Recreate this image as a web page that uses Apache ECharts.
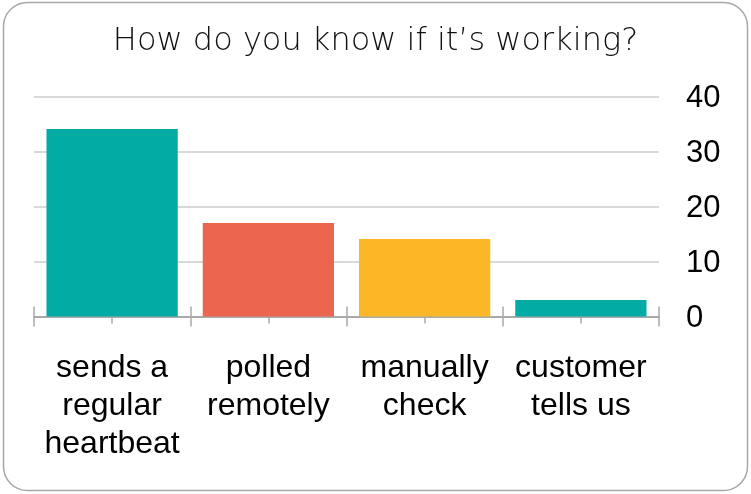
<!DOCTYPE html>
<html>
<head>
<meta charset="utf-8">
<script src="https://cdn.jsdelivr.net/npm/echarts@6/dist/echarts.min.js"></script>
<style>
html,body{margin:0;padding:0;background:#fff;}
#chart{width:751px;height:494px;}
</style>
</head>
<body>
<div id="chart"></div>
<script>
const titleText = "How do you know if it’s working?";
const categories = ["sends a\nregular\nheartbeat", "polled\nremotely", "manually\ncheck", "customer\ntells us"];
const values = [34.1, 17.0, 14.1, 3.0];
const barColors = ["#02aca5", "#ec654e", "#fdb726", "#02aca5"];
const yTicks = [0, 10, 20, 30, 40];

const chart = echarts.init(document.getElementById('chart'), null, {renderer: 'canvas'});
const tickColor = '#a9a9a9';
function tickAxis(len, inside, align) {
  return {
    type: 'category', data: categories, position: 'bottom', gridIndex: 0,
    axisLine: {show: false}, axisLabel: {show: false}, splitLine: {show: false},
    axisTick: {show: true, inside: inside, length: len, alignWithLabel: align, lineStyle: {color: tickColor, width: 1.5}}
  };
}
chart.setOption({
  animation: false,
  backgroundColor: '#fff',
  title: {
    text: titleText, left: 'center', top: 21,
    textStyle: {fontFamily: 'DejaVu Sans', fontWeight: 200, fontSize: 32, color: '#111'}
  },
  graphic: [{
    type: 'rect', shape: {x: 3.5, y: 2.5, width: 744, height: 488, r: 24},
    style: {fill: 'none', stroke: '#a8a8a8', lineWidth: 1.5}, z: -1
  }],
  grid: {left: 34, right: 92, top: 96.5, bottom: 177.5, containLabel: false},
  xAxis: [
    {
      type: 'category', data: categories, position: 'bottom',
      axisLine: {show: true, lineStyle: {color: '#a9a9a9', width: 2}},
      axisTick: {show: true, length: 10, lineStyle: {color: tickColor, width: 1.5}},
      axisLabel: {
        interval: 0, margin: 33, color: '#000', fontFamily: 'Liberation Sans',
        fontSize: 32, lineHeight: 38, verticalAlign: 'top'
      },
      splitLine: {show: false}
    },
    tickAxis(10, true, false),
    tickAxis(7, true, true),
    tickAxis(7, false, true)
  ],
  yAxis: {
    type: 'value', position: 'right', min: 0, max: 40, interval: 10,
    axisLine: {show: false}, axisTick: {show: false},
    axisLabel: {
      margin: 27, color: '#000', fontFamily: 'Liberation Sans', fontSize: 31,
      verticalAlign: 'top', padding: [-14, 0, 0, 0],
      formatter: function (v) { return yTicks.indexOf(v) >= 0 ? String(v) : ''; }
    },
    splitLine: {lineStyle: {color: '#cccccc', width: 1.5}}
  },
  series: [{
    type: 'bar', xAxisIndex: 0, barWidth: '84%',
    data: values.map((v, i) => ({value: v, itemStyle: {color: barColors[i]}}))
  }]
});
</script>
</body>
</html>
